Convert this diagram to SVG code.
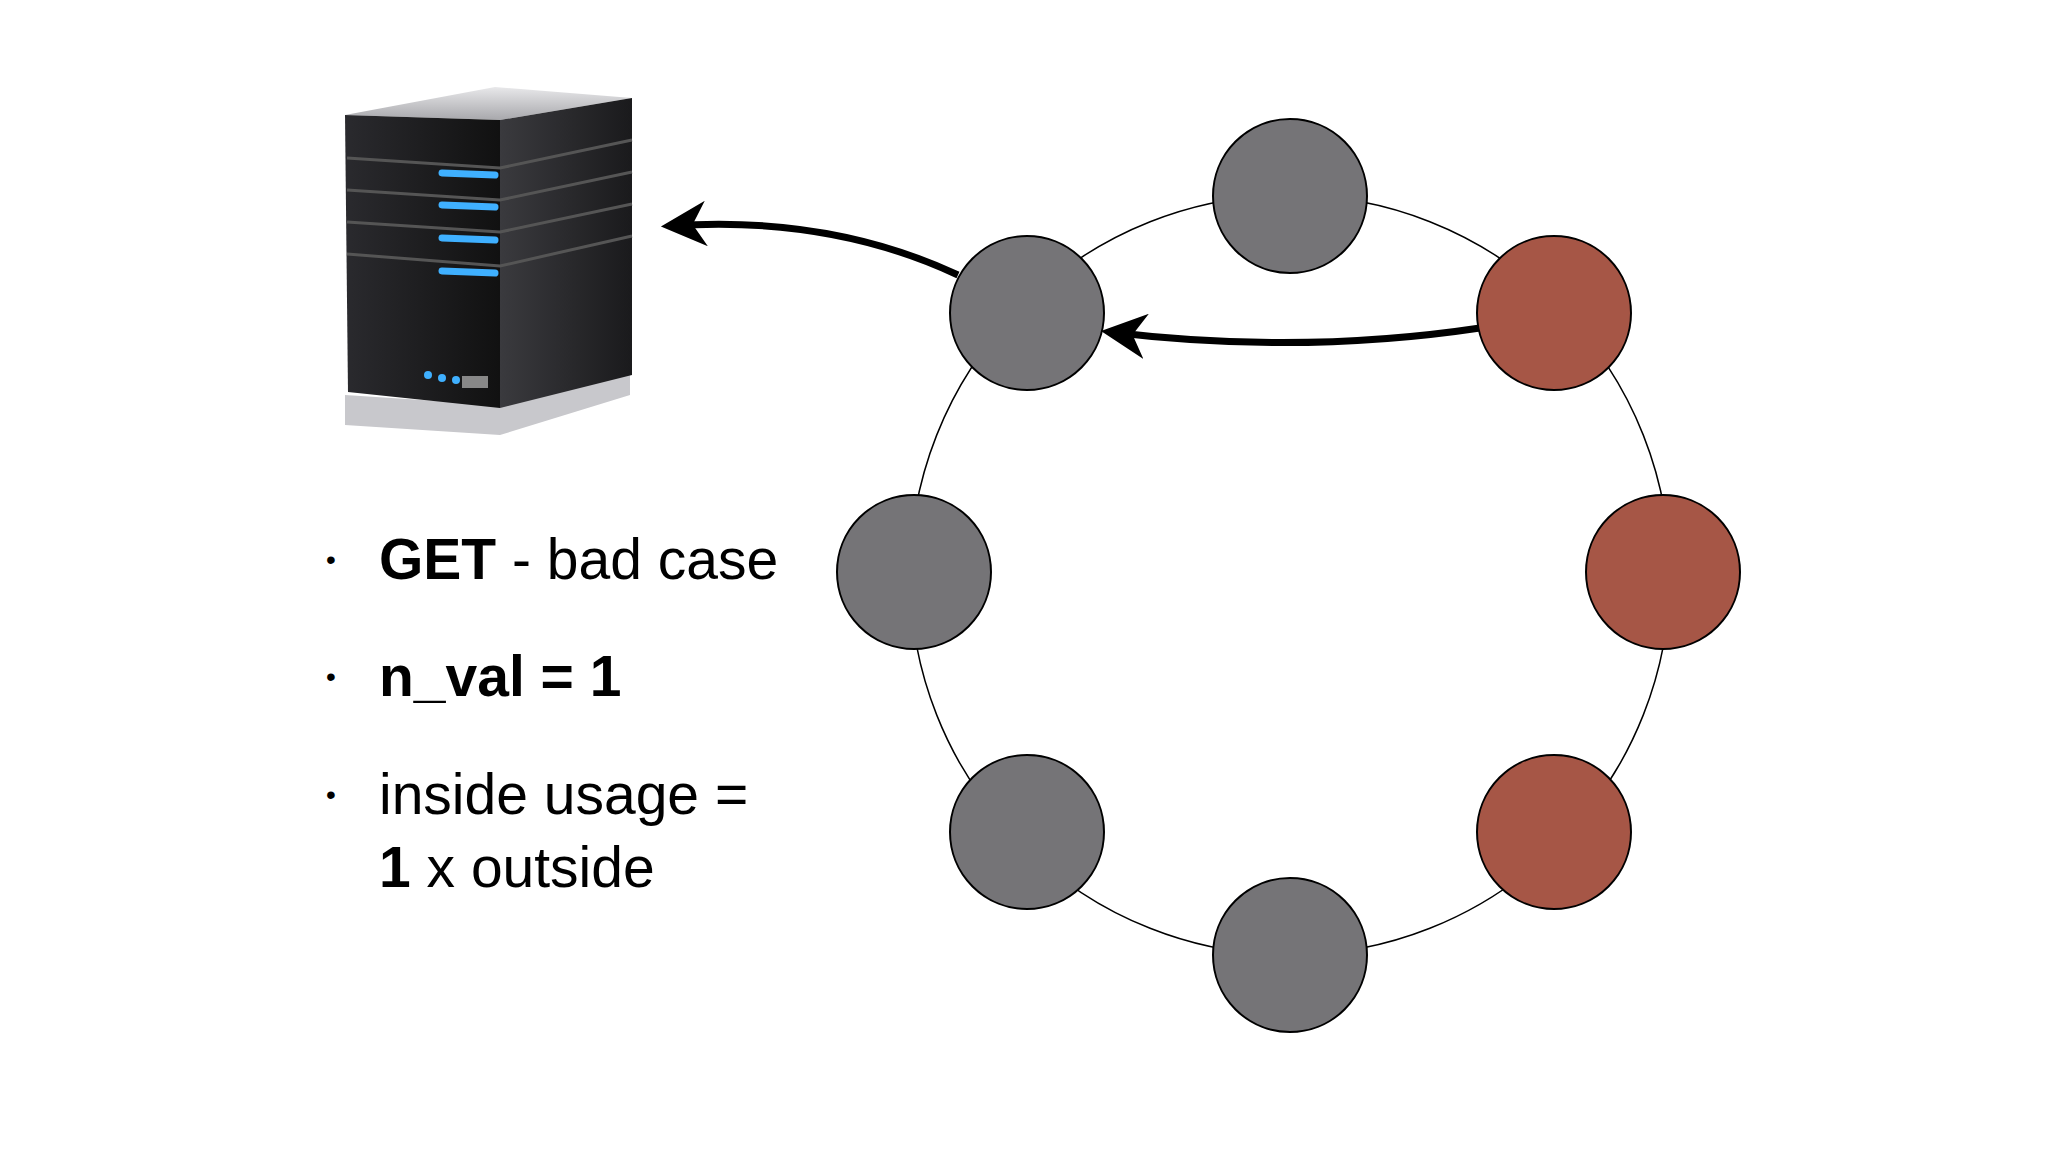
<svg xmlns="http://www.w3.org/2000/svg" width="2048" height="1152" viewBox="0 0 2048 1152">
<defs>
<style>
.g{fill:#757477;stroke:#000;stroke-width:2}
.r{fill:#a65646;stroke:#000;stroke-width:2}
.t{font-family:"Helvetica Neue","Liberation Sans",Arial,sans-serif;font-size:57px;fill:#000}
.b{font-family:"Liberation Sans",Arial,sans-serif;font-size:28px;fill:#000}
.a{fill:none;stroke:#000;stroke-width:7}
</style>
<marker id="ah" viewBox="0 0 10 10" refX="8" refY="5" markerWidth="6.5" markerHeight="6.5" markerUnits="strokeWidth" orient="auto"><path d="M0,0 L10,5 L0,10 L3,5 Z" fill="#000"/></marker>
<linearGradient id="front" x1="0" y1="0" x2="1" y2="0"><stop offset="0" stop-color="#2a2a2e"/><stop offset="1" stop-color="#111"/></linearGradient>
<linearGradient id="side" x1="0" y1="0" x2="1" y2="0"><stop offset="0" stop-color="#3a3a3e"/><stop offset="1" stop-color="#1a1a1c"/></linearGradient>
<linearGradient id="top" x1="0" y1="0" x2="0" y2="1"><stop offset="0" stop-color="#e8e8ea"/><stop offset="1" stop-color="#a8a8ac"/></linearGradient>
</defs>
<rect width="2048" height="1152" fill="#fff"/>
<g id="server">
<polygon points="345,425 500,435 630,395 630,370 500,405 345,395" fill="#c8c8cc"/>
<polygon points="345,115 500,120 632,98 495,87" fill="url(#top)"/>
<polygon points="345,115 500,120 500,408 348,392" fill="url(#front)"/>
<polygon points="500,120 632,98 632,375 500,408" fill="url(#side)"/>
<g stroke="#555" stroke-width="3" fill="none">
<path d="M347,158 L500,168 L632,140"/><path d="M347,190 L500,200 L632,172"/><path d="M347,222 L500,232 L632,204"/><path d="M347,254 L500,266 L632,236"/>
</g>
<g stroke="#3fb0ff" stroke-width="7" stroke-linecap="round">
<line x1="442" y1="173" x2="495" y2="175"/><line x1="442" y1="205" x2="495" y2="207"/><line x1="442" y1="238" x2="495" y2="240"/><line x1="442" y1="271" x2="495" y2="273"/>
</g>
<g fill="#3fb0ff"><circle cx="428" cy="375" r="4"/><circle cx="442" cy="378" r="4"/><circle cx="456" cy="380" r="4"/></g>
<rect x="462" y="376" width="26" height="12" fill="#888"/>
</g>
<g id="ring"><circle cx="1290" cy="575" r="380" fill="none" stroke="#000" stroke-width="1.5"/></g>
<g id="connectors">
<path class="a" d="M1480,328 Q1300,355 1110,332" marker-end="url(#ah)"/>
<path class="a" d="M958,275 Q830,215 670,226" marker-end="url(#ah)"/>
</g>
<g id="n1"><circle class="g" cx="1290" cy="196" r="77"/></g>
<g id="n2"><circle class="r" cx="1554" cy="313" r="77"/></g>
<g id="n3"><circle class="r" cx="1663" cy="572" r="77"/></g>
<g id="n4"><circle class="r" cx="1554" cy="832" r="77"/></g>
<g id="n5"><circle class="g" cx="1290" cy="955" r="77"/></g>
<g id="n6"><circle class="g" cx="1027" cy="832" r="77"/></g>
<g id="n7"><circle class="g" cx="914" cy="572" r="77"/></g>
<g id="n8"><circle class="g" cx="1027" cy="313" r="77"/></g>
<g id="text">
<text class="b" x="326" y="569">•</text>
<text class="t" x="379" y="579"><tspan font-weight="bold">GET</tspan> - bad case</text>
<text class="b" x="326" y="686">•</text>
<text class="t" x="379" y="696" font-weight="bold">n_val = 1</text>
<text class="b" x="326" y="804">•</text>
<text class="t" x="379" y="814">inside usage =</text>
<text class="t" x="379" y="887"><tspan font-weight="bold">1</tspan> x outside</text>
</g>
</svg>
